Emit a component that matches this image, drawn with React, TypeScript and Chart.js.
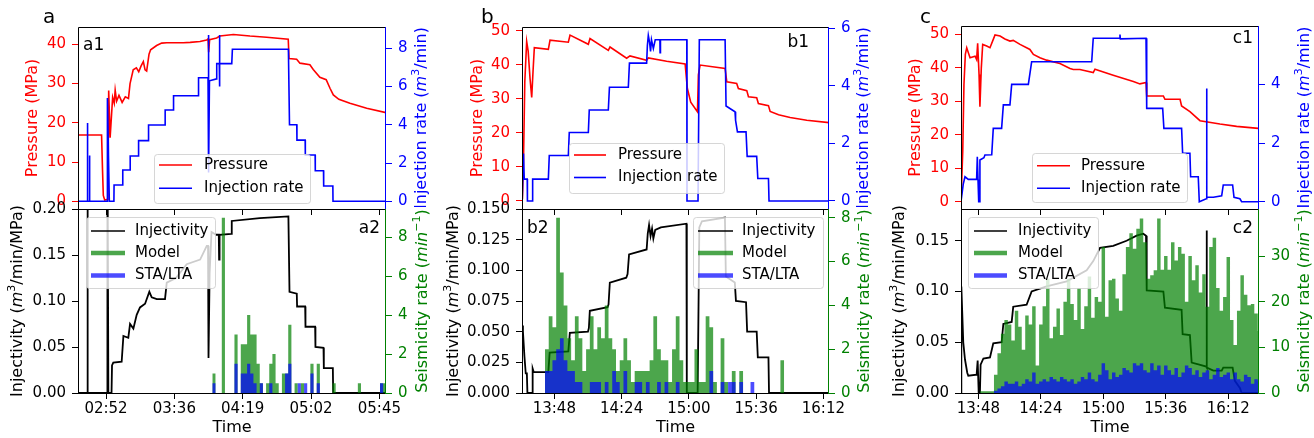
import React, { useEffect, useRef } from "react";
import { Chart, registerables } from "chart.js";

Chart.register(...registerables);

const FONT = "'DejaVu Sans', sans-serif";
Chart.defaults.font.family = FONT;

const BIN = 2; // histogram bin width (minutes)
const GREEN = "rgba(0,128,0,0.7)";
const BLUE_T = "rgba(0,0,255,0.7)";

// ---------------- Panel a (time = minutes after midnight) ----------------
const aTicks = [172.8, 216, 259.2, 302.4, 345.6];
const aTickLabels = ["02:52", "03:36", "04:19", "05:02", "05:45"];
const aPressure: [number, number][] = [
  [155.3, 16.9], [170.0, 16.9], [170.6, 8], [171.1, 1.5], [172.0, 0.3], [174.0, 0.5], [174.5, 28.2], [175.4, 16.2],
  [176.3, 22], [177.0, 26.5], [178.0, 25], [178.6, 28.3], [179.5, 25.5], [181.0, 27], [183.0, 25.2], [185.0, 26.6],
  [187.0, 26.2], [188.0, 30], [190.0, 33.5], [192.0, 34], [193.5, 33], [195.0, 34.5], [196.4, 35.6], [197.5, 33.5],
  [198.5, 33.2], [200.0, 37.5], [201.0, 38.6], [204.8, 39.7], [208.0, 40.3], [211.2, 40.4], [221.7, 40.4], [226.0, 40.5],
  [232.2, 40.7], [236.4, 41.1], [237.3, 41.4], [237.7, 38.0], [238.3, 41.2], [242.7, 41.6], [244.8, 42.1], [253.3, 42.5],
  [263.8, 42.1], [274.3, 41.8], [288.0, 41.3], [288.5, 36.4], [293.3, 36.2], [295.4, 35.2], [301.7, 34.8], [303.8, 33.6],
  [308.0, 31.6], [312.0, 31], [314.4, 28.8], [316.5, 27.1], [320.0, 26], [327.0, 25.0], [337.6, 23.7], [349.8, 22.6],
];
const aRate: [number, number][] = [
  [155.3, 0], [160.8, 0], [161.0, 4.1], [161.3, 0], [162.2, 0], [162.3, 2.4], [162.6, 0], [173.5, 0], [173.7, 5.4],
  [174.9, 0], [177.8, 0], [177.9, 0.85], [183.3, 0.85], [183.4, 1.64], [188.0, 1.64], [188.1, 2.37], [193.3, 2.37],
  [193.4, 3.17], [199.6, 3.17], [199.7, 3.99], [210.1, 3.99], [210.2, 4.77], [215.4, 4.77], [215.5, 5.52], [231.2, 5.52],
  [231.3, 6.46], [237.3, 6.46], [237.5, 8.7], [237.8, 1.5], [238.2, 6.3], [242.7, 6.4], [242.8, 7.2], [244.4, 7.2],
  [244.5, 8.7], [244.6, 6.0], [244.8, 7.2], [252.3, 7.2], [252.7, 7.95], [288.1, 7.95], [288.8, 4.0], [293.4, 4.0],
  [293.5, 3.2], [298.7, 3.2], [298.8, 2.42], [305.0, 2.42], [305.1, 1.6], [310.3, 1.6], [310.4, 0.8], [316.2, 0.8],
  [316.3, 0], [349.8, 0],
];
const aInjectivity: [number, number][] = [
  [155.3, 0], [160.8, 0], [161.0, 0.3], [161.4, 0], [173.5, 0], [173.7, 0.3], [174.3, 0], [176.3, 0], [176.6, 0.03],
  [177.4, 0.033], [182.7, 0.034], [183.8, 0.062], [186.9, 0.06], [188.0, 0.075], [190.1, 0.07], [192.2, 0.085],
  [194.3, 0.093], [197.5, 0.097], [200.2, 0.11], [201.7, 0.104], [204.9, 0.102], [210.1, 0.102], [211.2, 0.12],
  [217.0, 0.125], [223.8, 0.14], [232.3, 0.145], [236.5, 0.16], [237.3, 0.16], [237.6, 0.038], [238.3, 0.13],
  [239.5, 0.175], [242.4, 0.172], [244.1, 0.172], [244.3, 0.145], [244.6, 0.172], [252.0, 0.173], [252.3, 0.187],
  [270.0, 0.19], [288.1, 0.192], [288.8, 0.11], [293.4, 0.108], [293.6, 0.094], [298.7, 0.094], [298.9, 0.072],
  [305.0, 0.072], [305.2, 0.05], [310.3, 0.049], [310.5, 0.027], [316.2, 0.027], [316.4, 0], [349.8, 0],
];
const aBinStart = 240;
const aModel = [1, 0, 0, 9, 0, 0, 0, 3, 0, 2.5, 2.5, 4, 3, 3, 1.5, 0.5, 0, 0.5, 1.5, 2, 0.5, 0, 1, 1, 3.5, 0, 0.5, 0, 0.5, 0,
  0, 1.5, 0, 1.5, 0, 0, 0, 0, 0.5, 0, 0, 0, 0, 0, 0, 0, 0.5, 0, 0, 0, 0, 0, 0, 0.5, 0.5];
const aStaLta = [0.5, 0, 0, 0, 0, 0, 0, 1.5, 0, 1, 1, 1.5, 1, 0.5, 0, 0.5, 0, 0, 0.5, 0, 0, 0, 0, 1, 1.5, 0, 0, 0.5, 0, 0.5,
  0, 1, 0, 0.5, 0, 0, 0, 0, 0, 0, 0, 0, 0, 0, 0, 0, 0, 0, 0, 0, 0, 0, 0, 0.5, 0];

// ---------------- Panel b ----------------
const bTicks = [828, 864, 900, 936, 972];
const bTickLabels = ["13:48", "14:24", "15:00", "15:36", "16:12"];
const bPressure: [number, number][] = [
  [810.9, 0.5], [811.5, 12], [812.2, 35], [813.2, 46.8], [814.0, 44], [815.0, 36], [815.9, 30.4], [816.6, 38],
  [817.3, 45], [824.8, 44.5], [825.7, 47.2], [835.5, 46.6], [836.4, 48.7], [846.2, 46.0], [847.1, 47.7], [856.9, 44.2],
  [857.8, 45.2], [866.7, 41.9], [868.5, 42.6], [877.4, 41.3], [878.3, 42.0], [888.1, 41.0], [898.0, 40.2], [899.2, 33],
  [901.0, 29], [904.6, 26.2], [905.1, 37], [906.0, 39.9], [919.4, 38.9], [920.3, 35.0], [925.6, 34.5], [926.5, 33.0],
  [931.0, 32.4], [931.9, 30.6], [936.3, 30.3], [937.2, 28.6], [942.6, 28.0], [943.5, 26.3], [948.0, 25.3],
  [954.2, 24.5], [963.1, 23.7], [975.0, 23.0],
];
const bRate: [number, number][] = [
  [810.8, 0], [811.5, 1.65], [811.9, 0.76], [813.5, 0.76], [813.6, 0], [816.2, 0], [816.4, 0.76], [824.8, 0.76],
  [825.3, 1.58], [835.5, 1.58], [836.0, 2.38], [846.2, 2.38], [846.7, 3.16], [856.9, 3.16], [857.5, 3.95], [867.6, 3.95],
  [868.2, 4.79], [877.4, 4.79], [877.8, 5.4], [878.3, 5.75], [879.0, 5.5], [879.5, 5.2], [880.0, 5.6], [881.0, 5.3],
  [882.0, 5.6], [884.5, 5.6], [884.6, 5.15], [884.8, 5.6], [898.9, 5.6], [899.0, 0], [904.9, 0], [905.6, 5.6],
  [919.4, 5.6], [919.9, 3.3], [924.7, 3.1], [925.0, 2.8], [926.0, 2.4], [930.6, 2.4], [931.2, 1.55], [936.3, 1.55],
  [936.9, 0.78], [942.6, 0.78], [942.9, 0], [975.0, 0],
];
const bInjectivity: [number, number][] = [
  [810.8, 0.055], [811.2, 0.05], [812.0, 0.03], [812.7, 0.016], [813.3, 0.016], [813.6, 0], [816.2, 0], [816.4, 0.02],
  [817.0, 0.017], [824.8, 0.017], [825.5, 0.033], [835.5, 0.034], [836.3, 0.049], [846.0, 0.05], [846.5, 0.053],
  [847.0, 0.067], [856.5, 0.07], [857.0, 0.072], [857.7, 0.09], [866.5, 0.094], [867.2, 0.097], [868.0, 0.113],
  [877.4, 0.117], [878.0, 0.13], [878.7, 0.137], [879.5, 0.128], [880.3, 0.134], [881.0, 0.126], [882.0, 0.133],
  [885.0, 0.135], [898.7, 0.138], [898.9, 0], [904.7, 0], [905.6, 0.135], [907.0, 0.14], [919.3, 0.143],
  [919.8, 0.095], [924.6, 0.09], [925.2, 0.075], [930.6, 0.074], [931.2, 0.05], [936.3, 0.05], [936.9, 0.029],
  [942.6, 0.029], [942.9, 0], [975.0, 0],
];
const bBinStart = 823;
const bModel = [2, 3.5, 3, 8, 5.5, 4, 2.5, 1.5, 3.5, 2.5, 1, 2, 3.5, 2, 3, 2.5, 4, 2.5, 2, 1, 1.5, 2.5, 1.5, 0.5, 1, 1, 1, 1,
  1.5, 3.5, 2, 1.5, 1.5, 0.5, 2, 3.5, 1.5, 0.5, 0.5, 0.5, 2, 0.5, 0.5, 3.5, 3, 0.5, 0, 2.5, 0.5, 0, 1, 0, 1, 0, 0, 0, 0,
  0, 0, 0, 0, 0, 0, 1.5];
const bStaLta = [1, 1, 1.5, 2, 2.5, 1.5, 1, 1, 0.5, 0.5, 0, 0, 0.5, 0.5, 0.5, 0, 0.5, 0, 1, 0.5, 0, 1, 0, 0, 0.5, 0.5, 0,
  0.5, 0, 0, 0.5, 0, 0.5, 0, 0, 0.5, 0, 0, 0, 0, 0, 0, 0, 0, 1, 0, 0, 0.5, 0, 0.5, 0.5, 0, 0.5, 0, 0, 0.5, 0, 0, 0, 0, 0,
  0, 0, 0];

// ---------------- Panel c ----------------
const cTicks = [828, 864, 900, 936, 972];
const cTickLabels = ["13:48", "14:24", "15:00", "15:36", "16:12"];
const cPressure: [number, number][] = [
  [818.0, 0], [819.0, 15], [819.7, 35], [820.5, 44], [821.3, 46], [823.2, 43], [826.1, 43.5], [827.0, 42.5],
  [827.6, 47.3], [828.4, 38], [828.9, 28.4], [829.7, 40], [830.5, 47.0], [832.8, 46.5], [834.7, 46], [836.6, 48.5],
  [837.6, 49.8], [840.5, 49.5], [843.3, 48.6], [846.2, 48.0], [848.1, 48.2], [852.0, 47.0], [855.8, 46], [857.7, 45.5],
  [859.7, 44], [863.5, 43], [867.3, 42.3], [875.0, 41.3], [880.8, 39.8], [882.7, 39.5], [886.5, 39.5], [894.2, 38.6],
  [895.2, 39.6], [905.7, 37.8], [917.3, 35.9], [921.1, 35.2], [924.6, 35.6], [925.0, 31.6], [934.6, 31.6],
  [935.5, 30.6], [944.2, 30.6], [945.1, 28.6], [949.9, 26.9], [955.7, 24.2], [967.2, 23.2], [976.8, 22.5], [989.3, 21.9],
];
const cRate: [number, number][] = [
  [818.0, 0], [819.3, 0.6], [820.3, 0.85], [822.2, 0.76], [827.0, 0.76], [827.4, 1.53], [827.8, 0.76], [828.2, 0],
  [828.6, 0], [828.9, 1.42], [831.2, 1.5], [831.8, 1.59], [835.7, 1.6], [836.6, 2.5], [841.4, 2.5], [842.4, 3.3],
  [846.2, 3.3], [847.2, 4.0], [856.8, 4.0], [858.7, 4.77], [893.3, 4.77], [894.2, 5.57], [909.4, 5.57], [909.6, 5.7],
  [909.8, 5.55], [924.6, 5.57], [925.0, 3.18], [934.2, 3.18], [934.9, 2.5], [945.1, 2.5], [945.7, 1.65], [949.9, 1.65],
  [950.3, 0.85], [954.7, 0.85], [955.3, 0], [959.3, 0.1], [959.5, 3.86], [959.7, 0.15], [963.4, 0.15], [968.2, 0.2],
  [969.1, 0.57], [974.5, 0.57], [975.3, 0.15], [978.7, 0.1], [979.7, 0], [989.3, 0],
];
const cInjectivity: [number, number][] = [
  [818.0, 0], [818.2, 0.105], [819.3, 0.05], [820.3, 0.033], [821.6, 0.02], [822.2, 0.017], [827.0, 0.018],
  [827.6, 0.032], [828.2, 0], [828.9, 0], [829.3, 0.028], [830.9, 0.034], [834.7, 0.035], [836.6, 0.049],
  [841.4, 0.05], [842.4, 0.068], [847.2, 0.07], [848.1, 0.085], [855.8, 0.087], [858.7, 0.1], [867.3, 0.105],
  [878.9, 0.11], [890.4, 0.121], [894.2, 0.13], [898.1, 0.143], [905.7, 0.145], [913.4, 0.15], [919.2, 0.155],
  [923.0, 0.157], [924.6, 0.155], [925.0, 0.101], [934.6, 0.1], [935.5, 0.084], [945.1, 0.082], [945.7, 0.058],
  [949.9, 0.057], [950.9, 0.03], [955.3, 0.028], [959.3, 0.026], [959.5, 0.16], [959.7, 0.025], [963.4, 0.022],
  [968.2, 0.022], [969.1, 0.025], [974.5, 0.025], [975.8, 0.012], [978.7, 0.005], [979.7, 0], [989.3, 0],
];
const cBinStart = 829;
const cModel = [0.4, 0.4, 0.4, 0.4,
  4, 8.7, 13, 16, 15, 11.5, 18, 14.5, 9.5, 17, 15, 19, 6, 15, 19, 25, 12, 14.5, 18.5, 12.7, 20, 25, 19.5, 16, 23, 14, 19,
  25.5, 16.5, 21, 20, 32,
  16.7, 24.7, 25, 20.7, 18, 26, 32, 35, 31.6, 36, 38.2, 33, 25, 25.8, 26.9, 38.2, 27, 30, 27, 33, 29, 32, 30.5, 20, 30,
  24.7, 28, 22, 26, 18.9, 32, 34, 23, 18, 21, 29.8, 16, 10.5, 18, 25.8, 21.5, 19.2, 19.5, 17.4, 13.6];
const cStaLta = [0, 0, 0, 0, 0.5, 1, 1.5, 2.5, 2, 2, 2.5, 1.5, 2, 3, 2.5, 4.5, 2, 2.5, 3, 2.5, 3.5, 3, 2.5, 3.5, 3, 2.5, 3, 2,
  2.5, 3.5, 3, 4.5, 3, 2.5, 4, 6.5, 5, 3, 4.5, 3.5, 4, 5.5, 5, 4.5, 6.5, 6, 6.5, 5, 4.5, 6.5, 5, 6, 4, 6, 5, 4, 5.5, 3.5,
  4.5, 6, 5.5, 4, 5, 3.5, 4.5, 5, 3, 4, 5.5, 3.5, 4, 4.5, 3, 4.5, 3, 2.5, 4, 3.5, 2, 3, 2.5];

// ---------------- Axis ticks ----------------
const pressureTicks = [0, 10, 20, 30, 40, 50];
const rateTicksA = [0, 2, 4, 6, 8];
const rateTicksB = [0, 2, 4, 6];
const rateTicksC = [0, 2, 4];
const injTicksA = [0, 0.05, 0.1, 0.15, 0.2];
const injTicksB = [0, 0.025, 0.05, 0.075, 0.1, 0.125, 0.15];
const injTicksC = [0, 0.05, 0.1, 0.15];
const seisTicksAB = [0, 2, 4, 6, 8];
const seisTicksC = [0, 10, 20, 30];

type Seg = { t: string; it?: boolean; sup?: boolean };
const T_PRESSURE: Seg[] = [{ t: "Pressure (MPa)" }];
const T_RATE: Seg[] = [{ t: "Injection rate (" }, { t: "m", it: true }, { t: "3", sup: true }, { t: "/min)" }];
const T_INJ: Seg[] = [{ t: "Injectivity (" }, { t: "m", it: true }, { t: "3", sup: true }, { t: "/min/MPa)" }];
const T_SEIS: Seg[] = [{ t: "Seismicity rate (" }, { t: "min", it: true }, { t: "\u22121", sup: true }, { t: ")" }];

function lineDs(label: string, pts: [number, number][], color: string, yAxisID: string, order: number, width = 1.6) {
  return {
    label, data: pts.map(([x, y]) => ({ x, y })), borderColor: color, backgroundColor: color,
    borderWidth: width, pointRadius: 0, tension: 0, fill: false, yAxisID, order,
  };
}
function histDs(label: string, start: number, vals: number[], color: string, order: number) {
  const pts = vals.map((v, i) => ({ x: start + i * BIN, y: v }));
  pts.push({ x: start + vals.length * BIN, y: vals[vals.length - 1] });
  return {
    label, data: pts, stepped: "before", fill: "origin", backgroundColor: color,
    borderColor: "rgba(0,0,0,0)", borderWidth: 0, pointRadius: 0, yAxisID: "y1", order,
  };
}

interface AxisSpec { min: number; max: number; ticks: number[]; dec: number; color: string; title: Seg[]; titleX: number; clipBottom?: number }
interface Row { label: string; color: string; width: number; y: number }
interface Spec {
  rect: [number, number, number, number];
  area: [number, number, number, number];
  xMin: number; xMax: number; xTicks: number[]; xLabels: string[] | null;
  left: AxisSpec; right: AxisSpec;
  datasets: any[];
  legend: { box: [number, number, number, number]; lineX: [number, number]; textX: number; rows: Row[] };
  tag: { text: string; x: number; y: number; align: "left" | "right" };
  letter?: { text: string; x: number; y: number };
  timeY?: number;
}

const topRows = (y1: number, y2: number): Row[] => [
  { label: "Pressure", color: "red", width: 1.6, y: y1 },
  { label: "Injection rate", color: "blue", width: 1.6, y: y2 },
];
const botRows: Row[] = [
  { label: "Injectivity", color: "#000", width: 1.6, y: 231 },
  { label: "Model", color: GREEN, width: 4.5, y: 253 },
  { label: "STA/LTA", color: BLUE_T, width: 4.5, y: 275.5 },
];

const SPECS: Spec[] = [
  {
    rect: [0, 0, 440, 216], area: [78, 27, 386, 209], xMin: 155.1, xMax: 349.8, xTicks: aTicks, xLabels: null,
    left: { min: -1.96, max: 44.41, ticks: pressureTicks.slice(0, 5), dec: 0, color: "red", title: T_PRESSURE, titleX: 33 },
    right: { min: -0.403, max: 9.114, ticks: rateTicksA, dec: 0, color: "blue", title: T_RATE, titleX: 422, clipBottom: 207 },
    datasets: [lineDs("Pressure", aPressure, "red", "y", 2), lineDs("Injection rate", aRate, "blue", "y1", 1)],
    legend: { box: [154, 154, 310, 203], lineX: [159, 192], textX: 204, rows: topRows(165, 188.3) },
    tag: { text: "a1", x: 83, y: 50, align: "left" }, letter: { text: "a", x: 43, y: 23 },
  },
  {
    rect: [440, 0, 440, 216], area: [522, 27, 829, 209], xMin: 810.7, xMax: 975.0, xTicks: bTicks, xLabels: null,
    left: { min: -2.35, max: 51.07, ticks: pressureTicks, dec: 0, color: "red", title: T_PRESSURE, titleX: 477.5 },
    right: { min: -0.278, max: 6.045, ticks: rateTicksB, dec: 0, color: "blue", title: T_RATE, titleX: 864, clipBottom: 207 },
    datasets: [lineDs("Pressure", bPressure, "red", "y", 2), lineDs("Injection rate", bRate, "blue", "y1", 1)],
    legend: { box: [569, 143, 724, 193], lineX: [574, 606], textX: 618, rows: topRows(155, 177.5) },
    tag: { text: "b1", x: 809, y: 47, align: "right" }, letter: { text: "b", x: 481, y: 23 },
  },
  {
    rect: [880, 0, 434, 216], area: [961, 26, 1259, 209], xMin: 818.0, xMax: 989.7, xTicks: cTicks, xLabels: null,
    left: { min: -2.18, max: 52.5, ticks: pressureTicks, dec: 0, color: "red", title: T_PRESSURE, titleX: 915.7 },
    right: { min: -0.249, max: 5.99, ticks: rateTicksC, dec: 0, color: "blue", title: T_RATE, titleX: 1305, clipBottom: 207 },
    datasets: [lineDs("Pressure", cPressure, "red", "y", 2), lineDs("Injection rate", cRate, "blue", "y1", 1)],
    legend: { box: [1032, 153, 1187, 202], lineX: [1037, 1070], textX: 1081, rows: topRows(165.7, 188.3) },
    tag: { text: "c1", x: 1253, y: 43, align: "right" }, letter: { text: "c", x: 920, y: 23 },
  },
  {
    rect: [0, 180, 440, 258], area: [78, 209, 386, 393], xMin: 155.1, xMax: 349.8, xTicks: aTicks, xLabels: aTickLabels,
    left: { min: 0, max: 0.2, ticks: injTicksA, dec: 2, color: "#000", title: T_INJ, titleX: 18.3 },
    right: { min: 0, max: 9.45, ticks: seisTicksAB, dec: 0, color: "green", title: T_SEIS, titleX: 423 },
    datasets: [lineDs("Injectivity", aInjectivity, "#000", "y", 3, 1.8), histDs("Model", aBinStart, aModel, GREEN, 2),
      histDs("STA/LTA", aBinStart, aStaLta, BLUE_T, 1)],
    legend: { box: [86, 217, 215, 288], lineX: [91, 125], textX: 135, rows: botRows },
    tag: { text: "a2", x: 380, y: 233, align: "right" }, timeY: 428,
  },
  {
    rect: [440, 180, 440, 258], area: [522, 209, 829, 393], xMin: 810.7, xMax: 975.0, xTicks: bTicks, xLabels: bTickLabels,
    left: { min: 0, max: 0.15, ticks: injTicksB, dec: 3, color: "#000", title: T_INJ, titleX: 454.2 },
    right: { min: 0, max: 8.4, ticks: seisTicksAB, dec: 0, color: "green", title: T_SEIS, titleX: 865 },
    datasets: [lineDs("Injectivity", bInjectivity, "#000", "y", 3, 1.8), histDs("Model", bBinStart, bModel, GREEN, 2),
      histDs("STA/LTA", bBinStart, bStaLta, BLUE_T, 1)],
    legend: { box: [693, 217, 823, 288], lineX: [698, 733], textX: 742, rows: botRows },
    tag: { text: "b2", x: 527, y: 233, align: "left" }, timeY: 428,
  },
  {
    rect: [880, 180, 434, 258], area: [961, 209, 1259, 393], xMin: 818.0, xMax: 989.7, xTicks: cTicks, xLabels: cTickLabels,
    left: { min: 0, max: 0.1813, ticks: injTicksC, dec: 2, color: "#000", title: T_INJ, titleX: 900 },
    right: { min: 0, max: 40.3, ticks: seisTicksC, dec: 0, color: "green", title: T_SEIS, titleX: 1305 },
    datasets: [lineDs("Injectivity", cInjectivity, "#000", "y", 3, 1.8), histDs("Model", cBinStart, cModel, GREEN, 2),
      histDs("STA/LTA", cBinStart, cStaLta, BLUE_T, 1)],
    legend: { box: [968, 217, 1098, 288], lineX: [974, 1007], textX: 1018, rows: botRows },
    tag: { text: "c2", x: 1253, y: 233, align: "right" }, timeY: 428,
  },
];

function drawRich(ctx: CanvasRenderingContext2D, segs: Seg[], cx: number, cy: number, size: number, color: string) {
  ctx.save();
  ctx.translate(cx, cy);
  ctx.rotate(-Math.PI / 2);
  ctx.fillStyle = color;
  ctx.textBaseline = "middle";
  ctx.textAlign = "left";
  const fontOf = (s: Seg) => `${s.it ? "italic " : ""}${s.sup ? Math.round(size * 0.7) : size}px ${FONT}`;
  const widths = segs.map((s) => { ctx.font = fontOf(s); return ctx.measureText(s.t).width; });
  const total = widths.reduce((a, b) => a + b, 0);
  let x = -total / 2;
  segs.forEach((s, i) => {
    ctx.font = fontOf(s);
    ctx.fillText(s.t, x, s.sup ? -size * 0.38 : 0);
    x += widths[i];
  });
  ctx.restore();
}

function buildChart(canvas: HTMLCanvasElement, p: Spec) {
  const [cl, ct, cw, ch] = p.rect;
  const [al, at, ar, ab] = p.area;
  const L = al - cl, R = cl + cw - ar, padTop = at - ct, xH = ct + ch - ab;
  const zeroPad = (s: any) => { s.paddingTop = 0; s.paddingBottom = 0; s.paddingLeft = 0; s.paddingRight = 0; };
  const yScale = (ax: AxisSpec, pos: string, w: number) => ({
    type: "linear", position: pos, min: ax.min, max: ax.max,
    afterBuildTicks: (s: any) => { s.ticks = ax.ticks.map((v) => ({ value: v })); },
    afterFit: (s: any) => { s.width = w; zeroPad(s); },
    ticks: {
      color: ax.color, font: { family: FONT, size: 15 }, padding: 6, autoSkip: false,
      callback: (_v: any, i: number) => ax.ticks[i].toFixed(ax.dec),
    },
    grid: { display: true, drawOnChartArea: false, drawTicks: true, tickLength: 6, tickWidth: 1, tickColor: ax.color },
    border: { display: false },
  });

  const overlay = {
    id: "overlay",
    afterDraw(chart: any) {
      const ctx: CanvasRenderingContext2D = chart.ctx;
      const a = chart.chartArea;
      ctx.save();
      // frame (spines)
      ctx.lineWidth = 1;
      ctx.strokeStyle = "#000";
      ctx.beginPath();
      ctx.moveTo(a.left + 0.5, a.bottom + 1);
      ctx.lineTo(a.left + 0.5, a.top + 0.5);
      ctx.lineTo(a.right, a.top + 0.5);
      ctx.moveTo(a.left, a.bottom + 0.5);
      ctx.lineTo(a.right, a.bottom + 0.5);
      ctx.stroke();
      ctx.strokeStyle = p.right.color;
      ctx.beginPath();
      ctx.moveTo(a.right - 0.5, a.top);
      ctx.lineTo(a.right - 0.5, a.bottom + 1);
      ctx.stroke();

      // legend
      const lg = p.legend;
      const [x0, y0, x1, y1] = lg.box;
      ctx.beginPath();
      (ctx as any).roundRect(x0 - cl + 0.5, y0 - ct + 0.5, x1 - x0, y1 - y0, 3);
      ctx.fillStyle = "rgba(255,255,255,0.8)";
      ctx.fill();
      ctx.strokeStyle = "rgba(204,204,204,0.8)";
      ctx.lineWidth = 1;
      ctx.stroke();
      ctx.font = `15px ${FONT}`;
      ctx.textBaseline = "middle";
      ctx.textAlign = "left";
      lg.rows.forEach((r) => {
        ctx.strokeStyle = r.color;
        ctx.lineWidth = r.width;
        ctx.lineCap = "butt";
        ctx.beginPath();
        ctx.moveTo(lg.lineX[0] - cl, r.y - ct);
        ctx.lineTo(lg.lineX[1] - cl, r.y - ct);
        ctx.stroke();
        ctx.fillStyle = "#000";
        ctx.fillText(r.label, lg.textX - cl, r.y - ct);
      });

      // panel tag
      ctx.fillStyle = "#000";
      ctx.font = `17px ${FONT}`;
      ctx.textBaseline = "alphabetic";
      ctx.textAlign = p.tag.align;
      ctx.fillText(p.tag.text, p.tag.x - cl, p.tag.y - ct);
      if (p.letter) {
        ctx.font = `20px ${FONT}`;
        ctx.textAlign = "left";
        ctx.fillText(p.letter.text, p.letter.x - cl, p.letter.y - ct);
      }
      if (p.timeY) {
        ctx.font = `16px ${FONT}`;
        ctx.textAlign = "center";
        ctx.textBaseline = "middle";
        ctx.fillText("Time", (a.left + a.right) / 2, p.timeY - ct);
      }

      // axis titles
      const cy = (a.top + a.bottom) / 2;
      drawRich(ctx, p.left.title, p.left.titleX - cl, cy, 16, p.left.color);
      ctx.save();
      if (p.right.clipBottom) {
        ctx.beginPath();
        ctx.rect(0, 0, cw, p.right.clipBottom - ct);
        ctx.clip();
      }
      drawRich(ctx, p.right.title, p.right.titleX - cl, cy, 16, p.right.color);
      ctx.restore();
      ctx.restore();
    },
  };

  const config: any = {
    type: "line",
    data: { datasets: p.datasets },
    options: {
      animation: false,
      responsive: false,
      devicePixelRatio: 1,
      events: [],
      layout: { padding: { top: padTop, left: 0, right: 0, bottom: 0 } },
      plugins: { legend: { display: false }, tooltip: { enabled: false } },
      scales: {
        x: {
          type: "linear", position: "bottom", min: p.xMin, max: p.xMax,
          afterBuildTicks: (s: any) => { s.ticks = p.xTicks.map((v) => ({ value: v })); },
          afterFit: (s: any) => { s.height = xH; zeroPad(s); },
          ticks: {
            display: !!p.xLabels, color: "#000", font: { family: FONT, size: 15 }, padding: 1,
            autoSkip: false, maxRotation: 0, minRotation: 0,
            callback: (_v: any, i: number) => (p.xLabels ? p.xLabels[i] : ""),
          },
          grid: { display: true, drawOnChartArea: false, drawTicks: true, tickLength: 6, tickWidth: 1, tickColor: "#000" },
          border: { display: false },
        },
        y: yScale(p.left, "left", L),
        y1: yScale(p.right, "right", R),
      },
    },
    plugins: [overlay],
  };
  return new Chart(canvas, config);
}

function Panel({ spec }: { spec: Spec }) {
  const ref = useRef<HTMLCanvasElement>(null);
  useEffect(() => {
    const chart = buildChart(ref.current as HTMLCanvasElement, spec);
    return () => chart.destroy();
  }, [spec]);
  const [l, t, w, h] = spec.rect;
  return (
    <canvas
      ref={ref}
      width={w}
      height={h}
      style={{ position: "absolute", left: l, top: t, width: w, height: h }}
    />
  );
}

export default function App() {
  return (
    <div style={{ position: "absolute", left: 0, top: 0, width: 1314, height: 438, background: "#fff", overflow: "hidden" }}>
      {SPECS.map((s, i) => (
        <Panel key={i} spec={s} />
      ))}
    </div>
  );
}
